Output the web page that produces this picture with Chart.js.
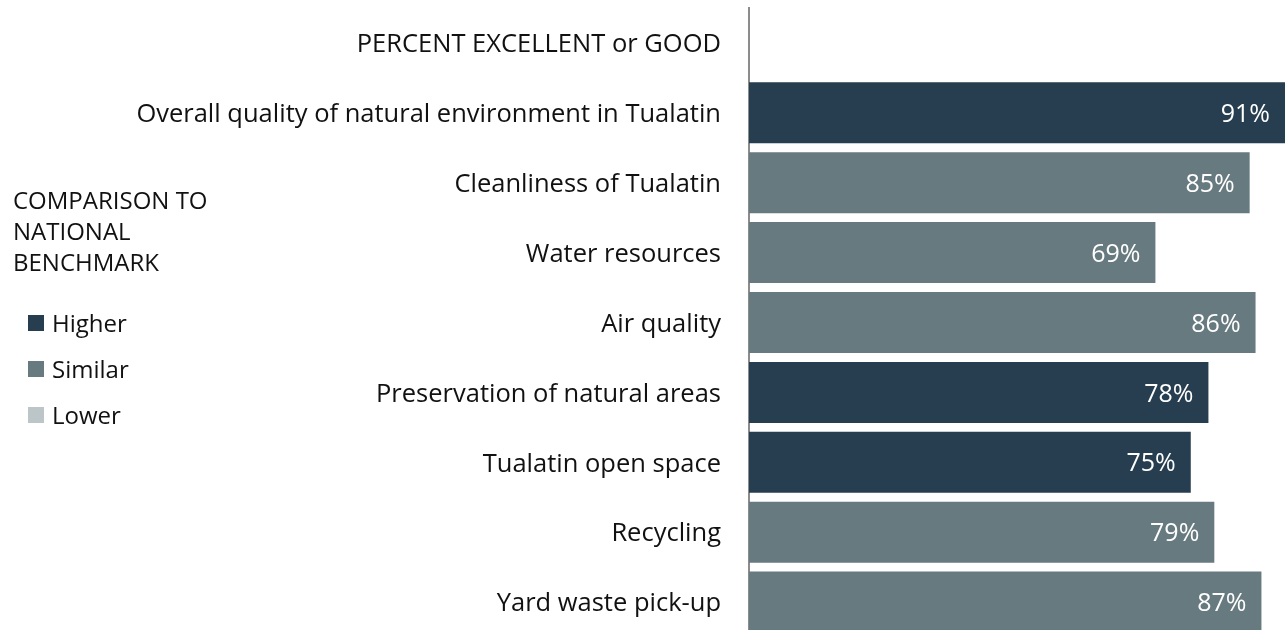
<!DOCTYPE html>
<html>
<head>
<meta charset="utf-8">
<script src="https://cdn.jsdelivr.net/npm/chart.js@4"></script>
<style>
  html, body { margin: 0; padding: 0; background: #fff; overflow: hidden; }
  #wrap { position: relative; width: 1285px; height: 637px; }
  #legend { position: absolute; left: 13px; top: 184px; font-family: "Open Sans", sans-serif; font-size: 24px; color: #111; }
  #legend .title { line-height: 31px; white-space: nowrap; }
  #legend .item { position: absolute; left: 15px; height: 30px; line-height: 30px; white-space: nowrap; display: flex; align-items: center; }
  #legend .sw { display: inline-block; width: 16px; height: 16px; margin-right: 8px; }
</style>
</head>
<body>
<div id="wrap">
  <canvas id="c"></canvas>
  <div id="legend"></div>
</div>
<script>
const categories = [
  'PERCENT EXCELLENT or GOOD',
  'Overall quality of natural environment in Tualatin',
  'Cleanliness of Tualatin',
  'Water resources',
  'Air quality',
  'Preservation of natural areas',
  'Tualatin open space',
  'Recycling',
  'Yard waste pick-up'
];
const values = [null, 91, 85, 69, 86, 78, 75, 79, 87];
const benchmark = [null, 'Higher', 'Similar', 'Similar', 'Similar', 'Higher', 'Higher', 'Similar', 'Similar'];
const legendTitle = ['COMPARISON TO', 'NATIONAL', 'BENCHMARK'];
const legendItems = ['Higher', 'Similar', 'Lower'];
const benchColors = { Higher: '#263e4f', Similar: '#677a80', Lower: '#bcc5c8' };

const FONT = '"Open Sans", sans-serif';

// legend (HTML text)
const lg = document.getElementById('legend');
legendTitle.forEach(t => { const d = document.createElement('div'); d.className = 'title'; d.textContent = t; lg.appendChild(d); });
legendItems.forEach((t, i) => {
  const d = document.createElement('div'); d.className = 'item';
  d.style.top = (124 + i * 46) + 'px';
  const s = document.createElement('span'); s.className = 'sw'; s.style.background = benchColors[t];
  d.appendChild(s); d.appendChild(document.createTextNode(t));
  lg.appendChild(d);
});

const valueLabels = {
  id: 'valueLabels',
  afterDatasetsDraw(chart) {
    const ctx = chart.ctx;
    const meta = chart.getDatasetMeta(0);
    ctx.save();
    ctx.fillStyle = '#ffffff';
    ctx.font = '25px ' + FONT;
    ctx.textAlign = 'right';
    ctx.textBaseline = 'middle';
    meta.data.forEach((bar, i) => {
      const v = values[i];
      if (v == null) return;
      ctx.fillText(v + '%', bar.x - 15, bar.y + 2);
    });
    ctx.restore();
  }
};

new Chart(document.getElementById('c'), {
  type: 'bar',
  data: {
    labels: categories,
    datasets: [{
      data: values,
      backgroundColor: benchmark.map(b => b ? benchColors[b] : 'rgba(0,0,0,0)'),
      borderWidth: 0,
      categoryPercentage: 1,
      barPercentage: 0.873
    }]
  },
  options: {
    indexAxis: 'y',
    responsive: true,
    maintainAspectRatio: false,
    animation: false,
    layout: { padding: { top: 8, right: 0, bottom: 0, left: 0 } },
    plugins: { legend: { display: false }, tooltip: { enabled: false } },
    scales: {
      x: {
        min: 0, max: 91,
        display: false,
        grid: { display: false }
      },
      y: {
        grid: { display: false, drawTicks: false },
        border: { display: true, color: '#8c8c8c', width: 2 },
        ticks: { color: '#111', font: { family: FONT, size: 25.5 }, padding: 28, labelOffset: 2, autoSkip: false },
        afterFit(scale) { scale.width = 749; scale.paddingTop = 0; scale.paddingBottom = 0; }
      }
    }
  },
  plugins: [valueLabels]
});
</script>
</body>
</html>
